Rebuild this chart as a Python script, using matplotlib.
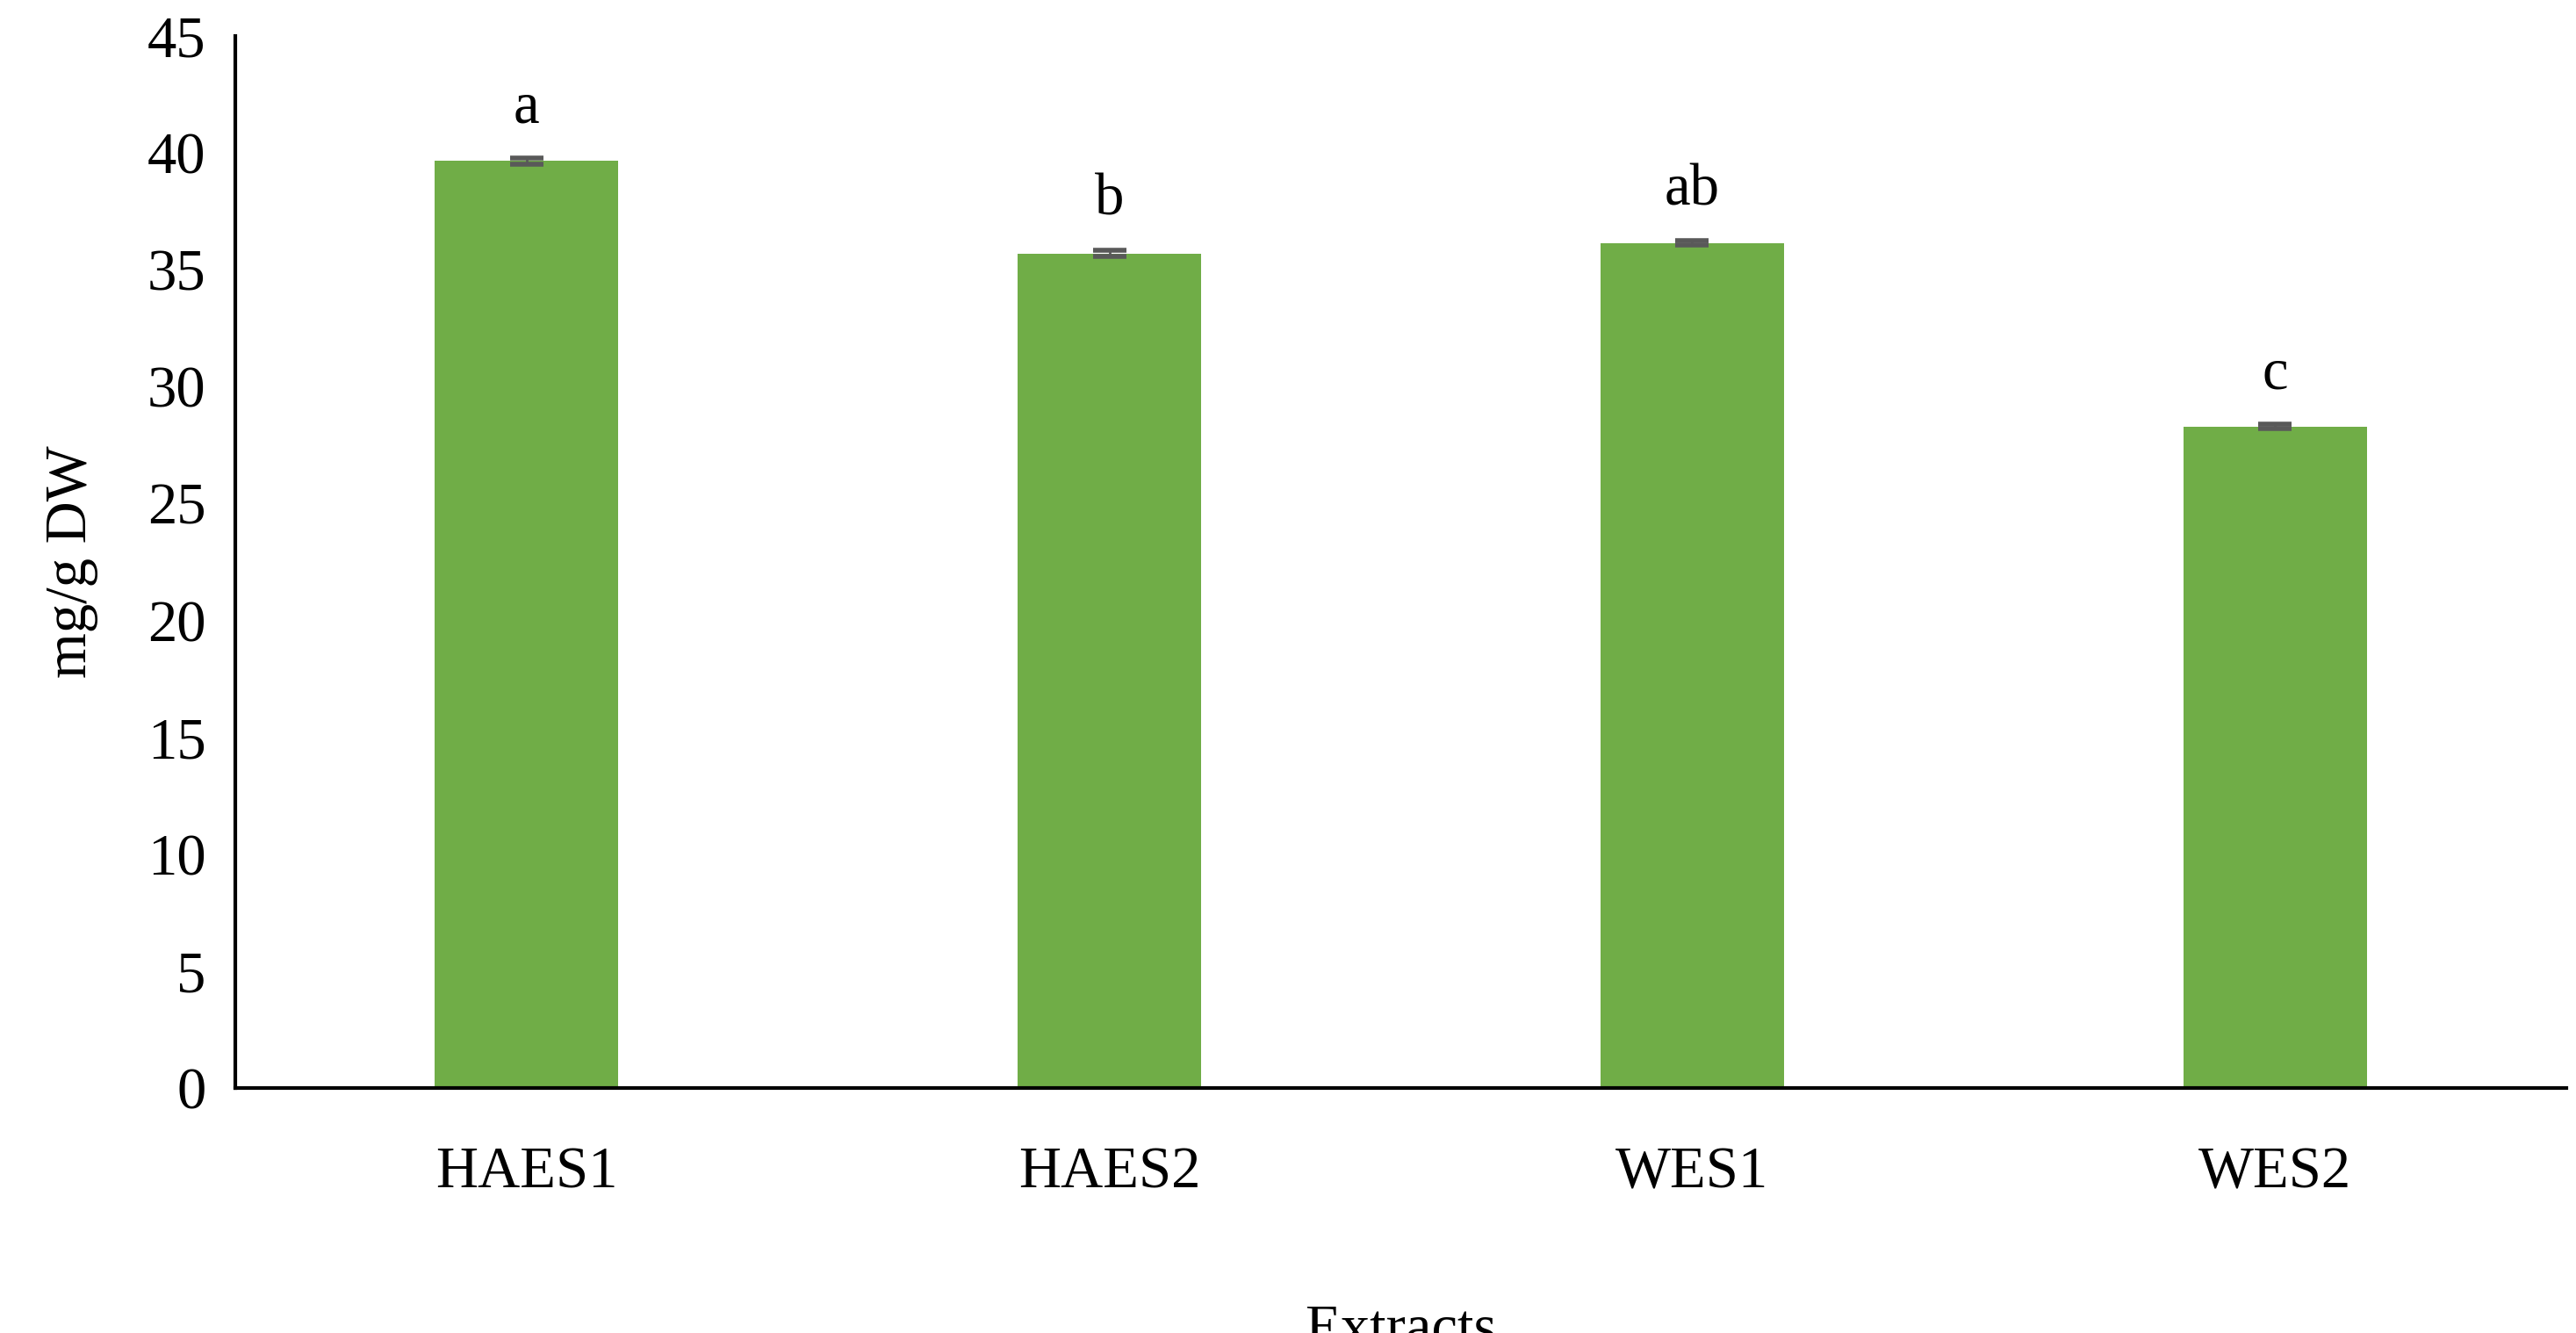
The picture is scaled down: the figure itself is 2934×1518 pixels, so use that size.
import matplotlib
matplotlib.use("Agg")
import matplotlib.pyplot as plt

categories = ["HAES1", "HAES2", "WES1", "WES2"]
values = [39.65, 35.7, 36.15, 28.3]
errors = [0.12, 0.12, 0.08, 0.1]
letters = ["a", "b", "ab", "c"]

plt.rcParams['font.family'] = ['Liberation Serif', 'DejaVu Serif']
fig = plt.figure(figsize=(29.34, 15.18), dpi=100)
ax = fig.add_axes([268/2934, 1-1239/1518, (2923-268)/2934, (1239-41)/1518])
x = range(len(categories))
ax.bar(x, values, width=0.315, color="#70AD47", zorder=2)
ax.errorbar(x, values, yerr=errors, fmt="none", ecolor="#595959", capsize=14, capthick=4, elinewidth=2, zorder=3)
for xi, v, e, l in zip(x, values, errors, letters):
    ax.text(xi, v + e + 1.0, l, ha="center", va="bottom", fontsize=48)
ax.set_xlim(-0.5, 3.5)
ax.set_ylim(0, 45)
ax.set_yticks(range(0, 46, 5))
ax.set_xticks(list(x))
ax.set_xticklabels(categories)
ax.tick_params(axis="both", labelsize=48, length=0, pad=24)
ax.tick_params(axis="x", pad=48)
for s in ["top", "right"]:
    ax.spines[s].set_visible(False)
for s in ["left", "bottom"]:
    ax.spines[s].set_linewidth(3)
ax.set_ylabel("mg/g DW", fontsize=48, labelpad=40)
ax.set_xlabel("Extracts", fontsize=48, labelpad=85)
fig.savefig("out.png", dpi=100)
